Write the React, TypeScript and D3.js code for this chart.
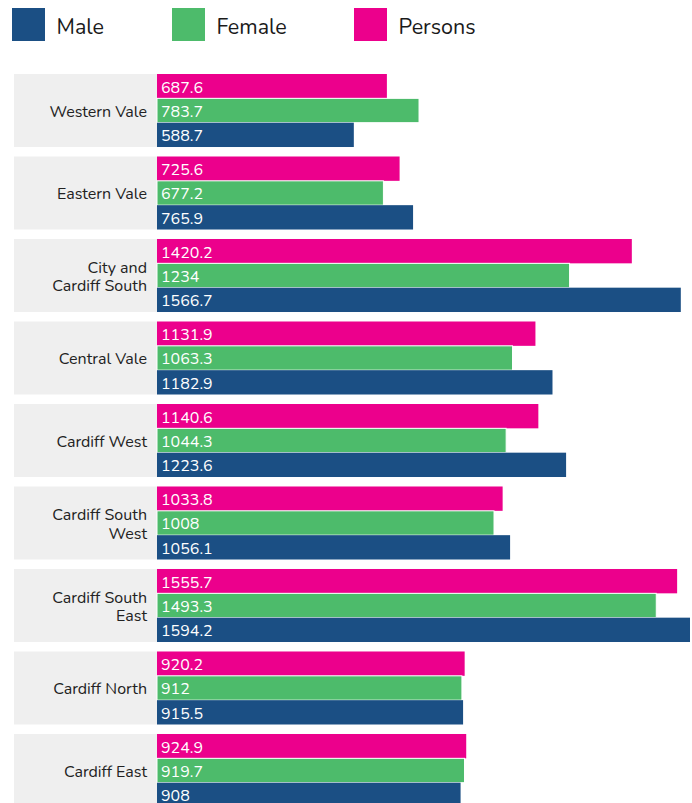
import React from "react";
import * as d3 from "d3";

const categories = [
  "Western Vale",
  "Eastern Vale",
  "City and Cardiff South",
  "Central Vale",
  "Cardiff West",
  "Cardiff South West",
  "Cardiff South East",
  "Cardiff North",
  "Cardiff East",
];
const personsValues = [687.6, 725.6, 1420.2, 1131.9, 1140.6, 1033.8, 1555.7, 920.2, 924.9];
const femaleValues = [783.7, 677.2, 1234, 1063.3, 1044.3, 1008, 1493.3, 912, 919.7];
const maleValues = [588.7, 765.9, 1566.7, 1182.9, 1223.6, 1056.1, 1594.2, 915.5, 908];

const seriesNames = ["Persons", "Female", "Male"];
const legendOrder = ["Male", "Female", "Persons"];
const colors: Record<string, string> = {
  Male: "#1b4f84",
  Female: "#4dbb6b",
  Persons: "#ec008c",
};
const seriesValues: Record<string, number[]> = {
  Persons: personsValues,
  Female: femaleValues,
  Male: maleValues,
};

if (typeof document !== "undefined") {
  document.body.style.margin = "0";
}

const FONT = "Nunito, 'Open Sans', Lato, sans-serif";
const W = 692;
const H = 803;

let ctx: CanvasRenderingContext2D | null = null;
function measure(text: string, size: number) {
  if (!ctx) ctx = document.createElement("canvas").getContext("2d");
  if (!ctx) return text.length * size * 0.55;
  ctx.font = `${size}px ${FONT}`;
  return ctx.measureText(text).width;
}
function wrap(text: string, maxW: number, size: number) {
  const words = text.split(" ");
  const lines: string[] = [];
  let cur = "";
  for (const w of words) {
    const t = cur ? cur + " " + w : w;
    if (measure(t, size) > maxW && cur) {
      lines.push(cur);
      cur = w;
    } else cur = t;
  }
  if (cur) lines.push(cur);
  return lines;
}

export default function App() {
  const left = 157;
  const labelBoxX = 14;
  const maxV = d3.max(maleValues.concat(femaleValues, personsValues)) as number;
  const x = d3.scaleLinear().domain([0, maxV]).range([left, 690]);
  const y = d3
    .scaleBand<string>()
    .domain(categories)
    .range([74, 807])
    .paddingInner(0.115)
    .paddingOuter(0);
  const sub = d3
    .scaleBand<string>()
    .domain(seriesNames)
    .range([0, y.bandwidth()])
    .padding(0);
  const legendX = [12, 172, 354];
  const fs = 16;

  return (
    <svg width={W} height={H} style={{ display: "block", fontFamily: FONT }}>
      <g>
        {legendOrder.map((name, i) => (
          <g key={name} transform={`translate(${legendX[i]},8)`}>
            <rect width={33} height={33} fill={colors[name]} />
            <text x={44.5} y={26.3} fontSize={21.5} fill="#1a1a1a">
              {name}
            </text>
          </g>
        ))}
      </g>
      {categories.map((cat, ci) => {
        const y0 = y(cat) as number;
        const lines = wrap(cat, 100, fs);
        const lh = 18.3;
        const cy = y0 + y.bandwidth() / 2;
        return (
          <g key={cat}>
            <rect
              x={labelBoxX}
              y={y0}
              width={left - labelBoxX}
              height={y.bandwidth()}
              fill="#efefef"
            />
            <text fontSize={fs} fill="#222" textAnchor="end">
              {lines.map((ln, li) => (
                <tspan
                  key={li}
                  x={147}
                  y={cy + (li - (lines.length - 1) / 2) * lh}
                  dy="0.4em"
                >
                  {ln}
                </tspan>
              ))}
            </text>
            {seriesNames.map((s) => {
              const v = seriesValues[s][ci];
              const by = y0 + (sub(s) as number);
              return (
                <g key={s}>
                  <rect
                    x={x(0)}
                    y={by}
                    width={x(v) - x(0)}
                    height={sub.bandwidth()}
                    fill={colors[s]}
                    stroke="#fff"
                    strokeWidth={s === "Female" ? 1 : 0}
                  />
                  <text
                    x={x(0) + 4}
                    y={by + sub.bandwidth() / 2}
                    dy="0.4em"
                    fontSize={fs}
                    fill="#fff"
                  >
                    {String(v)}
                  </text>
                </g>
              );
            })}
          </g>
        );
      })}
    </svg>
  );
}
